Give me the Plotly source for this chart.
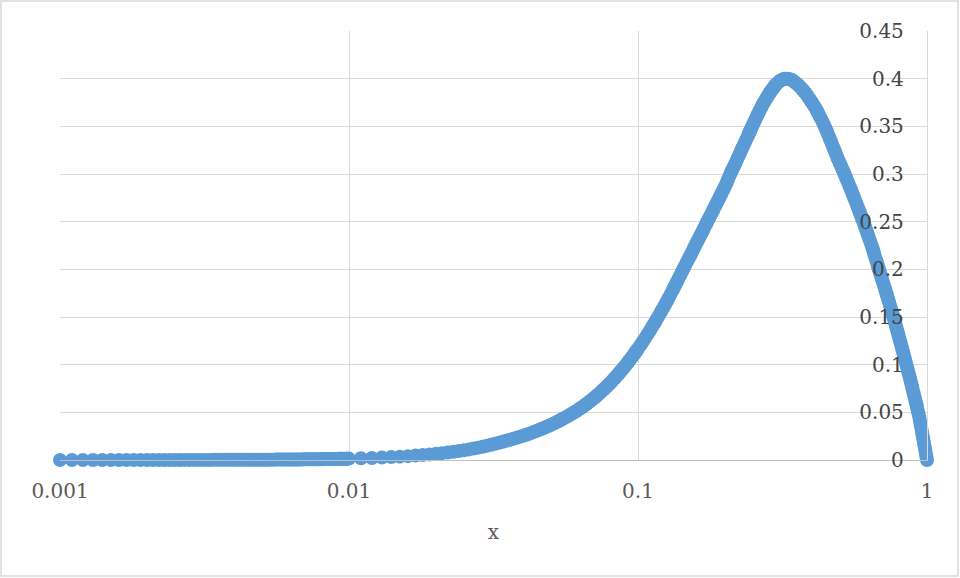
import plotly.graph_objects as go

# x grid, decade 0.001-0.01
x_d1 = [0.0010, 0.0011, 0.0012, 0.0013, 0.0014, 0.0015, 0.0016, 0.0017, 0.0018, 0.0019,
        0.0020, 0.0021, 0.0022, 0.0023, 0.0024, 0.0025, 0.0026, 0.0027, 0.0028, 0.0029,
        0.0030, 0.0031, 0.0032, 0.0033, 0.0034, 0.0035, 0.0036, 0.0037, 0.0038, 0.0039,
        0.0040, 0.0041, 0.0042, 0.0043, 0.0044, 0.0045, 0.0046, 0.0047, 0.0048, 0.0049,
        0.0050, 0.0051, 0.0052, 0.0053, 0.0054, 0.0055, 0.0056, 0.0057, 0.0058, 0.0059,
        0.0060, 0.0061, 0.0062, 0.0063, 0.0064, 0.0065, 0.0066, 0.0067, 0.0068, 0.0069,
        0.0070, 0.0071, 0.0072, 0.0073, 0.0074, 0.0075, 0.0076, 0.0077, 0.0078, 0.0079,
        0.0080, 0.0081, 0.0082, 0.0083, 0.0084, 0.0085, 0.0086, 0.0087, 0.0088, 0.0089,
        0.0090, 0.0091, 0.0092, 0.0093, 0.0094, 0.0095, 0.0096, 0.0097, 0.0098, 0.0099]
y_d1 = [0.00001, 0.00001, 0.00001, 0.00002, 0.00002, 0.00002, 0.00003, 0.00003, 0.00003, 0.00004,
        0.00004, 0.00005, 0.00005, 0.00006, 0.00006, 0.00007, 0.00007, 0.00008, 0.00009, 0.00010,
        0.00010, 0.00011, 0.00012, 0.00013, 0.00014, 0.00014, 0.00015, 0.00016, 0.00017, 0.00018,
        0.00019, 0.00020, 0.00021, 0.00023, 0.00024, 0.00025, 0.00026, 0.00028, 0.00029, 0.00030,
        0.00032, 0.00033, 0.00034, 0.00036, 0.00037, 0.00039, 0.00040, 0.00042, 0.00044, 0.00045,
        0.00047, 0.00049, 0.00051, 0.00052, 0.00054, 0.00056, 0.00058, 0.00060, 0.00062, 0.00064,
        0.00066, 0.00068, 0.00070, 0.00073, 0.00075, 0.00077, 0.00079, 0.00082, 0.00084, 0.00086,
        0.00089, 0.00091, 0.00094, 0.00096, 0.00099, 0.00101, 0.00104, 0.00107, 0.00109, 0.00112,
        0.00115, 0.00118, 0.00121, 0.00124, 0.00127, 0.00129, 0.00133, 0.00136, 0.00139, 0.00142]

# decade 0.01-0.1
x_d2 = [0.010, 0.011, 0.012, 0.013, 0.014, 0.015, 0.016, 0.017, 0.018, 0.019,
        0.020, 0.021, 0.022, 0.023, 0.024, 0.025, 0.026, 0.027, 0.028, 0.029,
        0.030, 0.031, 0.032, 0.033, 0.034, 0.035, 0.036, 0.037, 0.038, 0.039,
        0.040, 0.041, 0.042, 0.043, 0.044, 0.045, 0.046, 0.047, 0.048, 0.049,
        0.050, 0.051, 0.052, 0.053, 0.054, 0.055, 0.056, 0.057, 0.058, 0.059,
        0.060, 0.061, 0.062, 0.063, 0.064, 0.065, 0.066, 0.067, 0.068, 0.069,
        0.070, 0.071, 0.072, 0.073, 0.074, 0.075, 0.076, 0.077, 0.078, 0.079,
        0.080, 0.081, 0.082, 0.083, 0.084, 0.085, 0.086, 0.087, 0.088, 0.089,
        0.090, 0.091, 0.092, 0.093, 0.094, 0.095, 0.096, 0.097, 0.098, 0.099]
y_d2 = [0.00145, 0.00179, 0.00216, 0.00258, 0.00303, 0.00352, 0.00406, 0.00463, 0.00524, 0.00585,
        0.00650, 0.00718, 0.00790, 0.00866, 0.00944, 0.01027, 0.01113, 0.01202, 0.01295, 0.01392,
        0.01492, 0.01596, 0.01703, 0.01814, 0.01917, 0.02015, 0.02116, 0.02217, 0.02322, 0.02428,
        0.02536, 0.02646, 0.02758, 0.02872, 0.02988, 0.03105, 0.03223, 0.03339, 0.03456, 0.03575,
        0.03695, 0.03817, 0.03941, 0.04066, 0.04192, 0.04321, 0.04450, 0.04581, 0.04714, 0.04847,
        0.04982, 0.05120, 0.05259, 0.05398, 0.05540, 0.05684, 0.05830, 0.05978, 0.06128, 0.06280,
        0.06434, 0.06590, 0.06748, 0.06908, 0.07070, 0.07240, 0.07400, 0.07560, 0.07730, 0.07890,
        0.08060, 0.08230, 0.08410, 0.08580, 0.08750, 0.08930, 0.09110, 0.09280, 0.09460, 0.09640,
        0.09820, 0.10010, 0.10190, 0.10380, 0.10560, 0.10740, 0.10930, 0.11120, 0.11300, 0.11490]

# 0.1-0.2
x_d3a = [0.100, 0.102, 0.104, 0.106, 0.108, 0.110, 0.112, 0.114, 0.116, 0.118,
         0.120, 0.122, 0.124, 0.126, 0.128, 0.130, 0.132, 0.134, 0.136, 0.138,
         0.140, 0.142, 0.144, 0.146, 0.148, 0.150, 0.152, 0.154, 0.156, 0.158,
         0.160, 0.162, 0.164, 0.166, 0.168, 0.170, 0.172, 0.174, 0.176, 0.178,
         0.180, 0.182, 0.184, 0.186, 0.188, 0.190, 0.192, 0.194, 0.196, 0.198]
y_d3a = [0.1168, 0.1206, 0.1244, 0.1282, 0.1321, 0.1359, 0.1398, 0.1436, 0.1475, 0.1514,
         0.1553, 0.1591, 0.1630, 0.1669, 0.1707, 0.1746, 0.1785, 0.1824, 0.1863, 0.1901,
         0.1938, 0.1975, 0.2012, 0.2048, 0.2083, 0.2118, 0.2152, 0.2186, 0.2220, 0.2253,
         0.2286, 0.2318, 0.2350, 0.2382, 0.2413, 0.2444, 0.2475, 0.2505, 0.2535, 0.2564,
         0.2593, 0.2622, 0.2651, 0.2679, 0.2707, 0.2735, 0.2762, 0.2789, 0.2816, 0.2843]

# 0.2-0.3
x_d3b = [0.2000, 0.2025, 0.2050, 0.2075, 0.2100, 0.2125, 0.2150, 0.2175, 0.2200, 0.2225,
         0.2250, 0.2275, 0.2300, 0.2325, 0.2350, 0.2375, 0.2400, 0.2425, 0.2450, 0.2475,
         0.2500, 0.2525, 0.2550, 0.2575, 0.2600, 0.2625, 0.2650, 0.2675, 0.2700, 0.2725,
         0.2750, 0.2775, 0.2800, 0.2825, 0.2850, 0.2875, 0.2900, 0.2925, 0.2950, 0.2975]
y_d3b = [0.2870, 0.2908, 0.2945, 0.2983, 0.3020, 0.3053, 0.3085, 0.3118, 0.3150, 0.3183,
         0.3215, 0.3248, 0.3280, 0.3310, 0.3340, 0.3370, 0.3400, 0.3430, 0.3460, 0.3490,
         0.3520, 0.3548, 0.3575, 0.3603, 0.3630, 0.3655, 0.3680, 0.3705, 0.3730, 0.3750,
         0.3770, 0.3790, 0.3810, 0.3829, 0.3848, 0.3864, 0.3880, 0.3895, 0.3910, 0.3925]

# 0.3-0.4
x_d3c = [0.300, 0.305, 0.310, 0.315, 0.320, 0.325, 0.330, 0.335, 0.340, 0.345,
         0.350, 0.355, 0.360, 0.365, 0.370, 0.375, 0.380, 0.385, 0.390, 0.395]
y_d3c = [0.3940, 0.3960, 0.3980, 0.3990, 0.4000, 0.4002, 0.4000, 0.3996, 0.3990, 0.3976,
         0.3960, 0.3946, 0.3930, 0.3910, 0.3890, 0.3870, 0.3850, 0.3825, 0.3800, 0.3775]

# 0.4-0.6
x_d3d = [0.400, 0.405, 0.410, 0.415, 0.420, 0.425, 0.430, 0.435, 0.440, 0.445,
         0.450, 0.455, 0.460, 0.465, 0.470, 0.475, 0.480, 0.485, 0.490, 0.495,
         0.500, 0.505, 0.510, 0.515, 0.520, 0.525, 0.530, 0.535, 0.540, 0.545,
         0.550, 0.555, 0.560, 0.565, 0.570, 0.575, 0.580, 0.585, 0.590, 0.595]
y_d3d = [0.3750, 0.3725, 0.3700, 0.3670, 0.3640, 0.3610, 0.3580, 0.3550, 0.3520, 0.3485,
         0.3450, 0.3415, 0.3380, 0.3345, 0.3310, 0.3275, 0.3240, 0.3205, 0.3170, 0.3140,
         0.3110, 0.3080, 0.3050, 0.3020, 0.2990, 0.2960, 0.2930, 0.2900, 0.2870, 0.2840,
         0.2810, 0.2780, 0.2750, 0.2720, 0.2690, 0.2660, 0.2630, 0.2600, 0.2570, 0.2540]

# 0.6-1
x_d3e = [0.600, 0.605, 0.610, 0.615, 0.620, 0.625, 0.630, 0.635, 0.640, 0.645,
         0.650, 0.655, 0.660, 0.665, 0.670, 0.675, 0.680, 0.685, 0.690, 0.695,
         0.700, 0.705, 0.710, 0.715, 0.720, 0.725, 0.730, 0.735, 0.740, 0.745,
         0.750, 0.755, 0.760, 0.765, 0.770, 0.775, 0.780, 0.785, 0.790, 0.795,
         0.800, 0.805, 0.810, 0.815, 0.820, 0.825, 0.830, 0.835, 0.840, 0.845,
         0.850, 0.855, 0.860, 0.865, 0.870, 0.875, 0.880, 0.885, 0.890, 0.895,
         0.900, 0.905, 0.910, 0.915, 0.920, 0.925, 0.930, 0.935, 0.940, 0.945,
         0.950, 0.955, 0.960, 0.965, 0.970, 0.975, 0.980, 0.985, 0.990, 0.995, 1.000]
y_d3e = [0.2510, 0.2480, 0.2450, 0.2420, 0.2390, 0.2360, 0.2330, 0.2300, 0.2270, 0.2240,
         0.2210, 0.2175, 0.2140, 0.2110, 0.2080, 0.2045, 0.2010, 0.1980, 0.1950, 0.1920,
         0.1890, 0.1860, 0.1830, 0.1800, 0.1770, 0.1740, 0.1710, 0.1680, 0.1650, 0.1620,
         0.1590, 0.1560, 0.1530, 0.1500, 0.1470, 0.1440, 0.1410, 0.1380, 0.1350, 0.1320,
         0.1290, 0.1260, 0.1230, 0.1200, 0.1170, 0.1140, 0.1110, 0.1080, 0.1050, 0.1020,
         0.0990, 0.0960, 0.0935, 0.0905, 0.0875, 0.0845, 0.0815, 0.0785, 0.0755, 0.0725,
         0.0695, 0.0665, 0.0635, 0.0605, 0.0575, 0.0545, 0.0515, 0.0485, 0.0450, 0.0415,
         0.0375, 0.0340, 0.0300, 0.0262, 0.0225, 0.0188, 0.0150, 0.0112, 0.0075, 0.0037, 0.0000]

x_tick_vals = [0.001, 0.01, 0.1, 1]
x_tick_text = ["0.001", "0.01", "0.1", "1"]
y_tick_vals = [0, 0.05, 0.1, 0.15, 0.2, 0.25, 0.3, 0.35, 0.4, 0.45]
y_tick_text = ["0", "0.05", "0.1", "0.15", "0.2", "0.25", "0.3", "0.35", "0.4", "0.45"]

x_all = x_d1 + x_d2 + x_d3a + x_d3b + x_d3c + x_d3d + x_d3e
y_all = y_d1 + y_d2 + y_d3a + y_d3b + y_d3c + y_d3d + y_d3e

FONT = "DejaVu Serif"
TXT = "#595959"
GRID = "#d9d9d9"

fig = go.Figure()
fig.add_trace(go.Scatter(
    x=x_all, y=y_all, mode="markers",
    marker=dict(size=14, color="#5b9bd5", line=dict(width=0)),
    cliponaxis=False, showlegend=False, hoverinfo="skip",
))

fig.update_layout(
    width=960, height=578,
    margin=dict(l=60, r=33, t=31, b=118),
    paper_bgcolor="white", plot_bgcolor="white",
    font=dict(family=FONT, size=20, color=TXT),
    xaxis=dict(
        type="log", range=[-3, 0],
        tickvals=x_tick_vals, ticktext=x_tick_text,
        showgrid=True, gridcolor=GRID, gridwidth=1.3,
        showline=True, linecolor="#bfbfbf", linewidth=1.3,
        ticks="", ticklabelstandoff=13,
        zeroline=False,
        title=dict(text="x", standoff=22, font=dict(family=FONT, size=20, color=TXT)),
    ),
    yaxis=dict(
        range=[0, 0.4502], side="right",
        tickvals=y_tick_vals, ticktext=y_tick_text,
        ticklabelposition="inside", ticklabeloverflow="allow",
        ticks="", ticklabelstandoff=24,
        showgrid=True, gridcolor=GRID, gridwidth=1.3,
        showline=True, linecolor=GRID, linewidth=1.3,
        zeroline=False,
    ),
    shapes=[dict(
        type="rect", xref="paper", yref="paper",
        x0=-59 / 867, x1=898 / 867, y0=-116 / 429, y1=459 / 429,
        line=dict(color="#d9d9d9", width=1.5), fillcolor="rgba(0,0,0,0)", layer="below",
    )],
)

fig.write_html("out.html", config={"displayModeBar": False},
               post_script="document.body.style.margin='0px';")
